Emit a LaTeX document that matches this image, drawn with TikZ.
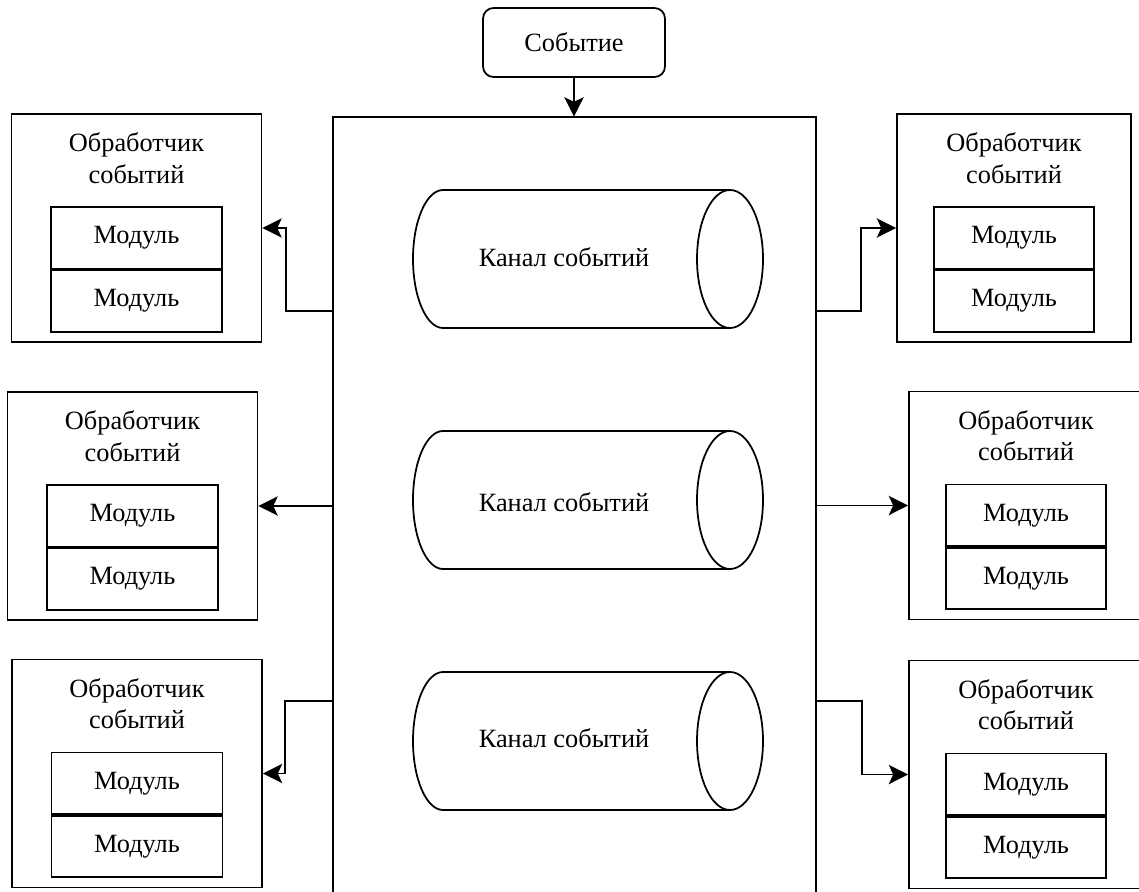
\documentclass[tikz,border=0pt]{standalone}
\usepackage{fontspec}
\setmainfont{Liberation Serif}
\usetikzlibrary{arrows.meta}
\usetikzlibrary{calc}
\newcommand{\pxl}{0.02cm}
\tikzset{
    txt/.style={font=\fontsize{15pt}{18pt}\selectfont},
    box/.style={draw, line width=1pt, inner sep=0pt, txt},
    handler/.style={box, minimum width=#1*\pxl, minimum height=228*\pxl},
    module/.style={box, minimum width=#1*\pxl, minimum height=61.5*\pxl},
    title/.style={txt, align=center, inner sep=0pt},
    event/.style={box, rounded corners=6pt, minimum width=182*\pxl, minimum height=69*\pxl},
    label/.style={txt, inner sep=0pt},
    arr/.style={line width=1pt, -{Stealth[length=11pt,width=11pt,inset=2.5pt]}}
}
\newcommand{\handler}[5]{
	\node[handler=#4] (#1) at (#2,#3) {};
	\node[title] (#1t) at ($(#1.north)+(0,45)$) {Обработчик\\событий};
	\node[module=#5, anchor=north] (#1a) at ($(#1.north)+(0,93)$) {Модуль};
	\node[module=#5, anchor=north] (#1b) at (#1a.south) {Модуль};
}
\newcommand{\channel}[3]{
	\node[label] (#1) at (564,#3) {Канал событий};
	\draw[line width=1pt] (730,#2-69) -- (443,#2-69)
		arc[start angle=270, end angle=90, x radius=30, y radius=69] -- (730,#2+69);
	\draw[line width=1pt] (730,#2) ellipse [x radius=33, y radius=69];
}

\begin{document}
\begin{tikzpicture}[x=0.02cm, y=-0.02cm]
		\useasboundingbox (0,0) rectangle (1139,892);

		% event and bus
		\node[event] (ev) at (574,42.5) {Событие};
		\node[minimum width=483*\pxl, minimum height=800*\pxl, inner sep=0pt] (bus) at (574.5,517) {};
		\draw[line width=1pt] (bus.south west) -- (bus.north west) -- (bus.north east) -- (bus.south east);
		\draw[arr] (ev.south) -- (ev.south |- bus.north);

		% channels
		\channel{c1}{259}{257}
		\channel{c2}{500}{502}
		\channel{c3}{741}{738}

		% left handlers
		\handler{hl1}{136.5}{228}{250}{171}
		\handler{hl2}{132.5}{506}{250}{171}
		\handler{hl3}{137}{773.5}{250}{171}

		% right handlers
		\handler{hr1}{1014}{228}{234}{160}
		\handler{hr2}{1026}{505.5}{234}{160}
		\handler{hr3}{1026}{774.5}{234}{160}

		% connectors
		\coordinate (bl1) at ($(bus.north west)+(0,194)$);
		\coordinate (bl3) at ($(bus.north west)+(0,584)$);
		\coordinate (br1) at ($(bus.north east)+(0,194)$);
		\coordinate (br3) at ($(bus.north east)+(0,584)$);
		\draw[arr] (bl1) -| ($(hl1.east)+(23.5,0)$) -- (hl1.east);
		\draw[arr] (bus.west |- hl2.east) -- (hl2.east);
		\draw[arr] (bl3) -| ($(hl3.east)+(22,0)$) -- (hl3.east);
		\draw[arr] (br1) -| ($(hr1.west)+(-35,0)$) -- (hr1.west);
		\draw[arr] (bus.east |- hr2.west) -- (hr2.west);
		\draw[arr] (br3) -| ($(hr3.west)+(-46,0)$) -- (hr3.west);

	\end{tikzpicture}
\end{document}
